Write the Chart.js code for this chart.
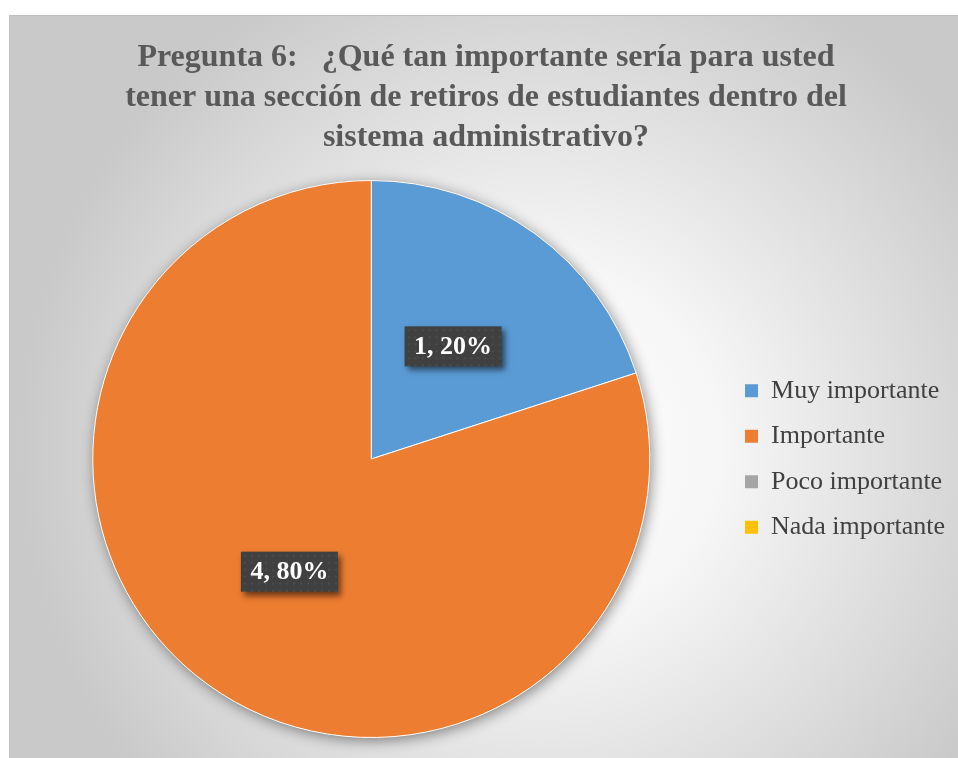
<!DOCTYPE html>
<html lang="es">
<head>
<meta charset="utf-8">
<title>Pregunta 6</title>
<script src="https://cdn.jsdelivr.net/npm/chart.js@4.4.1/dist/chart.umd.min.js"></script>
<style>
  html, body { margin: 0; padding: 0; background: #fff; overflow: hidden; }
  #marco {
    position: absolute; left: 9px; top: 15px; width: 960px; height: 760px;
    border: 1px solid #bfbfbf;
    background: radial-gradient(circle 520px at 530px 430px, #ffffff 0%, #f6f6f6 35%, #c9c9c9 100%);
  }
  #grafico { position: absolute; left: 0; top: 0; }
</style>
</head>
<body>
<div id="marco"><canvas id="grafico" width="948" height="742"></canvas></div>
<script>
// Pregunta 6 - respuestas de la encuesta
const categorias = ['Muy importante', 'Importante', 'Poco importante', 'Nada importante']
const respuestas = [1, 4, 0, 0]
const colores = ['#5B9BD5', '#ED7D31', '#A5A5A5', '#FFC000']
const titulo = [
	'Pregunta 6:   ¿Qué tan importante sería para usted',
	'tener una sección de retiros de estudiantes dentro del',
	'sistema administrativo?'
]

const fuente = "'Liberation Serif', 'Times New Roman', serif"
const total = respuestas.reduce((a, b) => a + b, 0)

// sombra suave debajo del pastel completo
const sombraPastel = {
	id: 'sombraPastel',
	beforeDatasetsDraw(chart) {
		const arc = chart.getDatasetMeta(0).data[0]
		if (!arc) return
		const {x, y, outerRadius} = arc.getProps(['x', 'y', 'outerRadius'], true)
		const c = chart.ctx
		c.save()
		c.shadowColor = 'rgba(0,0,0,0.45)'
		c.shadowBlur = 14
		c.shadowOffsetX = 2
		c.shadowOffsetY = 3
		c.beginPath()
		c.arc(x, y, outerRadius, 0, Math.PI * 2)
		c.fillStyle = colores[1]
		c.fill()
		c.restore()
	}
}

// etiquetas "valor, porcentaje" en cajas oscuras
const etiquetas = {
	id: 'etiquetas',
	afterDatasetsDraw(chart) {
		const c = chart.ctx
		const meta = chart.getDatasetMeta(0)
		meta.data.forEach((arc, i) => {
			const v = respuestas[i]
			if (!v) return
			const p = arc.tooltipPosition()
			const texto = v + ', ' + Math.round(v / total * 100) + '%'
			const w = 97, h = 40
			const x0 = p.x - w / 2, y0 = p.y - h / 2
			c.save()
			c.shadowColor = 'rgba(0,0,0,0.55)'
			c.shadowBlur = 6
			c.shadowOffsetX = 3
			c.shadowOffsetY = 4
			c.fillStyle = '#404040'
			c.fillRect(x0, y0, w, h)
			c.restore()
			// trama de puntos
			c.save()
			c.fillStyle = 'rgba(255,255,255,0.07)'
			for (let dx = 3; dx < w; dx += 7) {
				for (let dy = 3; dy < h; dy += 7) {
					c.fillRect(x0 + dx, y0 + dy, 2, 2)
				}
			}
			c.fillStyle = '#ffffff'
			c.font = 'bold 26px ' + fuente
			c.textAlign = 'center'
			c.textBaseline = 'middle'
			c.fillText(texto, p.x, p.y + 1)
			c.restore()
		})
	}
}

const ctx = document.getElementById('grafico').getContext('2d')
const grafico = new Chart(ctx, {
	type: 'pie',
	data: {
		labels: categorias,
		datasets: [{
			data: respuestas,
			backgroundColor: colores,
			borderColor: '#ffffff',
			borderWidth: 1
		}]
	},
	options: {
		responsive: false,
		animation: false,
		devicePixelRatio: 1,
		layout: {padding: {left: 7, right: 3, top: 0, bottom: 20}},
		plugins: {
			title: {
				display: true,
				text: titulo,
				color: '#595959',
				font: {family: fuente, size: 32, weight: 'bold', lineHeight: 1.25},
				padding: {top: 22, bottom: 22}
			},
			legend: {
				position: 'right',
				fullSize: false,
				labels: {
					boxWidth: 13,
					boxHeight: 13,
					padding: 19.5,
					color: '#404040',
					font: {family: fuente, size: 26},
					generateLabels(chart) {
						const items = Chart.overrides.pie.plugins.legend.labels.generateLabels(chart)
						items.forEach(it => { it.lineWidth = 0; it.strokeStyle = it.fillStyle })
						return items
					}
				}
			},
			tooltip: {enabled: false}
		}
	},
	plugins: [sombraPastel, etiquetas]
})
</script>
</body>
</html>
